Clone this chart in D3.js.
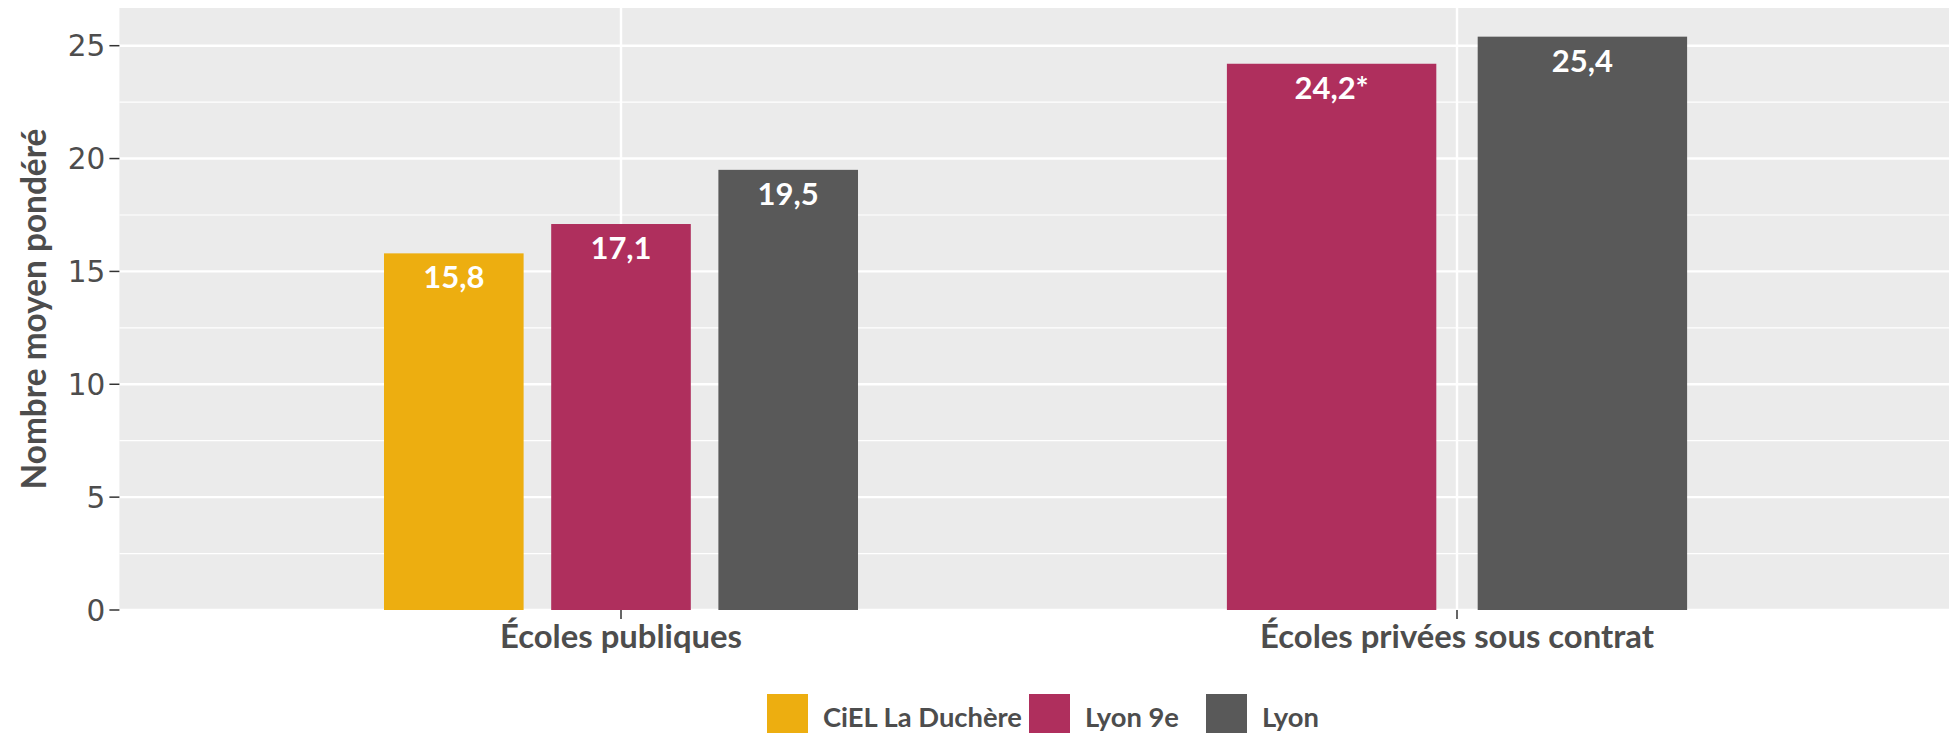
<!DOCTYPE html>
<html><head><meta charset="utf-8">
<script src="https://cdn.jsdelivr.net/npm/d3@7"></script>
<style>body{margin:0;background:#fff}svg{display:block}</style>
</head><body>
<svg id="c" width="1949" height="733"></svg>
<script>
const categories = ["Écoles publiques", "Écoles privées sous contrat"];
const seriesNames = ["CiEL La Duchère", "Lyon 9e", "Lyon"];
const seriesColors = ["#EDAE10", "#AF2F5D", "#595959"];
const valuesPublic = [15.8, 17.1, 19.5];
const valuesPrivate = [null, 24.2, 25.4];
const labelsPublic = ["15,8", "17,1", "19,5"];
const labelsPrivate = [null, "24,2*", "25,4"];
const yTicks = [0, 5, 10, 15, 20, 25];
const yMinor = [2.5, 7.5, 12.5, 17.5, 22.5];

const svg = d3.select("#c");
const L = 119.4, R = 1958.6, T = 8, B = 610;
const labelFont = "Lato, 'Open Sans', sans-serif";

const x = d3.scalePoint().domain(categories).range([L, R]).padding(0.6);
const step = x.step();
const y = d3.scaleLinear().domain([0, 25.4 * 1.05]).range([B, T]);

function fit(sel, target) {
  sel.each(function() {
    const fs = parseFloat(this.getAttribute("font-size"));
    const w = this.getComputedTextLength();
    if (w > 0) this.setAttribute("font-size", (fs * target / w).toFixed(2));
  });
}

// panel
svg.append("rect").attr("x", L).attr("y", T).attr("width", R - L).attr("height", B - T).attr("fill", "#EBEBEB");
svg.append("g").selectAll("line").data(yMinor).join("line")
  .attr("x1", L).attr("x2", R).attr("y1", d => y(d)).attr("y2", d => y(d))
  .attr("stroke", "#fff").attr("stroke-width", 1.2);
svg.append("g").selectAll("line").data(yTicks).join("line")
  .attr("x1", L).attr("x2", R).attr("y1", d => y(d)).attr("y2", d => y(d))
  .attr("stroke", "#fff").attr("stroke-width", 2.4);
svg.append("g").selectAll("line").data(categories).join("line")
  .attr("x1", d => x(d)).attr("x2", d => x(d)).attr("y1", T).attr("y2", B)
  .attr("stroke", "#fff").attr("stroke-width", 2.4);

// bars
const groups = [
  {cat: categories[0], vals: valuesPublic, labs: labelsPublic},
  {cat: categories[1], vals: valuesPrivate, labs: labelsPrivate}
];
const groupW = 0.6 * step, pad = 0.165;
groups.forEach(g => {
  const present = seriesNames.filter((s, i) => g.vals[i] != null);
  const inner = d3.scaleBand().domain(present).range([-groupW / 2, groupW / 2])
    .paddingInner(pad).paddingOuter(pad / 2);
  const data = seriesNames.map((s, i) => ({s, i, v: g.vals[i], lab: g.labs[i]})).filter(d => d.v != null);
  const gg = svg.append("g").attr("transform", `translate(${x(g.cat)},0)`);
  gg.selectAll("rect").data(data).join("rect")
    .attr("x", d => inner(d.s)).attr("width", inner.bandwidth())
    .attr("y", d => y(d.v)).attr("height", d => y(0) - y(d.v))
    .attr("fill", d => seriesColors[d.i]);
  gg.selectAll("text").data(data).join("text")
    .attr("x", d => inner(d.s) + inner.bandwidth() / 2)
    .attr("y", d => y(d.v) + 35)
    .attr("text-anchor", "middle").attr("fill", "#fff")
    .attr("font-family", labelFont).attr("font-weight", 700).attr("font-size", 31)
    .text(d => d.lab);
});

// y axis
const yAxis = svg.append("g");
yAxis.selectAll("line").data(yTicks).join("line")
  .attr("x1", L - 10).attr("x2", L).attr("y1", d => y(d)).attr("y2", d => y(d))
  .attr("stroke", "#333").attr("stroke-width", 1.5);
yAxis.selectAll("text").data(yTicks).join("text")
  .attr("x", L - 14).attr("y", d => y(d)).attr("dy", "0.36em")
  .attr("text-anchor", "end").attr("fill", "#4D4D4D")
  .attr("font-family", "'DejaVu Sans', sans-serif").attr("font-size", 29.5)
  .text(d => d);

// x axis
const xAxis = svg.append("g");
xAxis.selectAll("line").data(categories).join("line")
  .attr("x1", d => x(d)).attr("x2", d => x(d)).attr("y1", B).attr("y2", B + 9)
  .attr("stroke", "#333").attr("stroke-width", 1.5);
const xt = xAxis.selectAll("text").data(categories).join("text")
  .attr("x", d => x(d)).attr("y", 648)
  .attr("text-anchor", "middle").attr("fill", "#4D4D4D")
  .attr("font-family", labelFont).attr("font-weight", 700).attr("font-size", 30)
  .text(d => d);
fit(xt.filter((d, i) => i === 0), 242);
xt.filter((d, i) => i === 1).attr("font-size", xt.filter((d,i)=>i===0).attr("font-size"));

// y title
const yt = svg.append("text")
  .attr("transform", `translate(46,${(T + B) / 2}) rotate(-90)`)
  .attr("text-anchor", "middle").attr("fill", "#4D4D4D")
  .attr("font-family", labelFont).attr("font-weight", 700).attr("font-size", 30)
  .text("Nombre moyen pondéré");
fit(yt, 361);

// legend
const legX = [767, 1029, 1206];
const lg = svg.append("g");
const legTexts = [];
seriesNames.forEach((s, i) => {
  lg.append("rect").attr("x", legX[i]).attr("y", 694).attr("width", 41).attr("height", 41)
    .attr("fill", seriesColors[i]);
  legTexts.push(lg.append("text").attr("x", legX[i] + 56).attr("y", 727)
    .attr("fill", "#4D4D4D").attr("font-family", labelFont).attr("font-weight", 700)
    .attr("font-size", 28)
    .text(s));
});
fit(legTexts[0], 199);
const lfs = legTexts[0].attr("font-size");
legTexts.forEach(t => t.attr("font-size", lfs));
</script>
</body></html>
